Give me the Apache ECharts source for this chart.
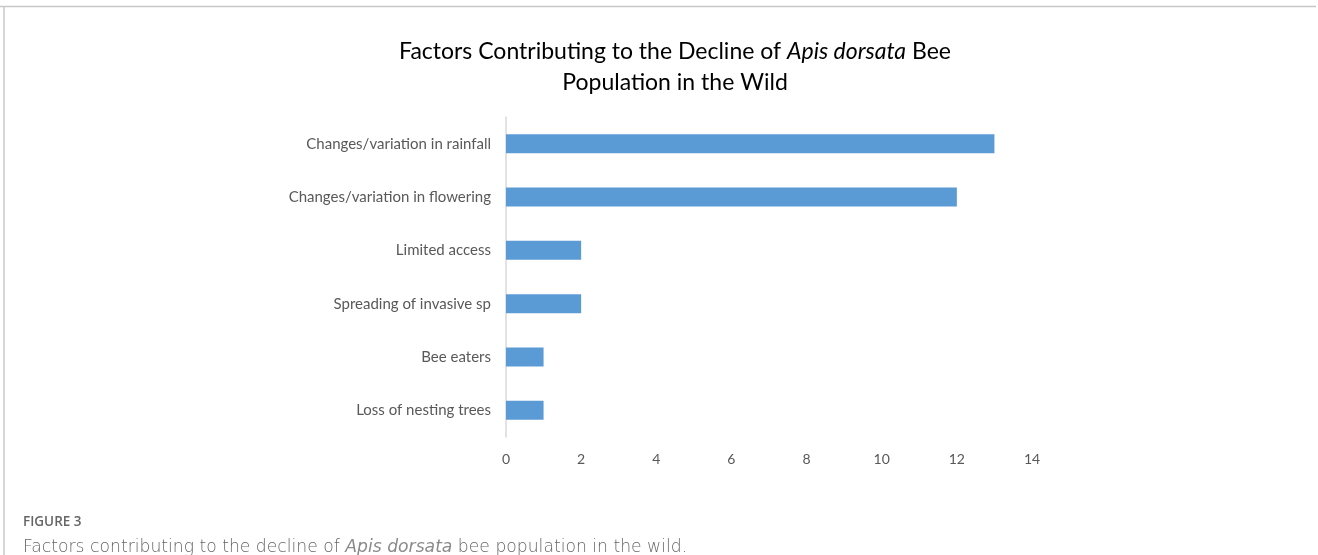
<!DOCTYPE html>
<html>
<head>
<meta charset="utf-8">
<script src="https://cdn.jsdelivr.net/npm/echarts@6/dist/echarts.min.js"></script>
<style>
html,body{margin:0;padding:0;background:#fff;}
#chart{width:1318px;height:555px;}
</style>
</head>
<body>
<div id="chart"></div>
<script>
const categories = [
  "Changes/variation in rainfall",
  "Changes/variation in flowering",
  "Limited access",
  "Spreading of invasive sp",
  "Bee eaters",
  "Loss of nesting trees"
];
const values = [13, 12, 2, 2, 1, 1];
const xTicks = [0, 2, 4, 6, 8, 10, 12, 14];

const chart = echarts.init(document.getElementById('chart'));
chart.setOption({
  backgroundColor: '#ffffff',
  animation: false,
  title: [
    {
      text: 'Factors Contributing to the Decline of {i|Apis dorsata} Bee\nPopulation in the Wild',
      left: 670, top: 31, textAlign: 'center',
      textStyle: {
        fontFamily: 'Lato', fontSize: 23, fontWeight: 'normal', color: '#000', lineHeight: 31,
        rich: { i: { fontFamily: 'Lato', fontSize: 23, fontStyle: 'italic', color: '#000', lineHeight: 31 } }
      }
    },
    {
      text: 'FIGURE 3',
      left: 18, top: 510,
      textStyle: { fontFamily: 'Open Sans', fontSize: 13.5, fontWeight: 600, color: '#666' }
    },
    {
      text: 'Factors contributing to the decline of {i|Apis dorsata} bee population in the wild.',
      left: 18, top: 533,
      textStyle: {
        fontFamily: 'DejaVu Sans', fontSize: 17.2, fontWeight: 200, color: '#666', lineHeight: 20,
        rich: { i: { fontFamily: 'DejaVu Sans', fontSize: 17.2, fontWeight: 200, fontStyle: 'italic', color: '#8a8a8a', lineHeight: 20 } }
      }
    }
  ],
  graphic: [
    { type: 'line', shape: { x1: 0, y1: 6.5, x2: 1316, y2: 6.5 }, style: { stroke: '#c8c8c8', lineWidth: 1.5 } },
    { type: 'line', shape: { x1: 4, y1: 6, x2: 4, y2: 555 }, style: { stroke: '#c8c8c8', lineWidth: 1.5 } }
  ],
  grid: { left: 506, right: 286, top: 117, bottom: 118, containLabel: false },
  xAxis: {
    type: 'value', min: 0, max: 14, interval: 2,
    axisLine: { show: false }, axisTick: { show: false }, splitLine: { show: false },
    axisLabel: {
      color: '#595959', fontFamily: 'Lato', fontSize: 14, margin: 15,
      formatter: v => xTicks.includes(v) ? String(v) : ''
    }
  },
  yAxis: {
    type: 'category', data: categories, inverse: true,
    axisLine: { show: true, lineStyle: { color: '#d9d9d9', width: 1.5 } },
    axisTick: { show: false },
    axisLabel: { color: '#595959', fontFamily: 'Lato', fontSize: 15, margin: 15 }
  },
  series: [{
    type: 'bar', data: values, barWidth: 19,
    itemStyle: { color: '#5b9bd5' }
  }]
});
</script>
</body>
</html>
